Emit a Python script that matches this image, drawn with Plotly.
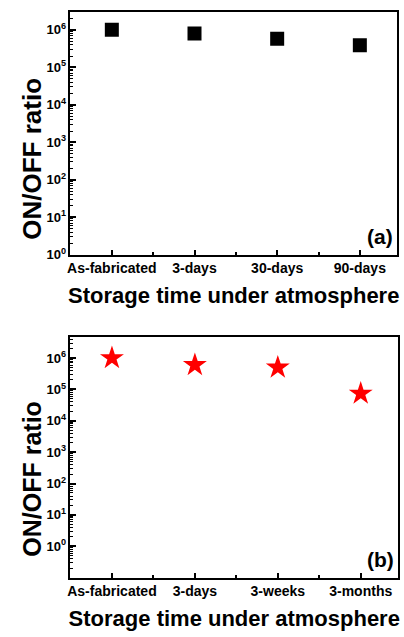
import plotly.graph_objects as go

cats_a = ["As-fabricated", "3-days", "30-days", "90-days"]
vals_a = [1.0e6, 8.0e5, 5.8e5, 3.9e5]
cats_b = ["As-fabricated", "3-days", "3-weeks", "3-months"]
vals_b = [1.0e6, 6.0e5, 5.0e5, 7.4e4]
ytick_exp = [0, 1, 2, 3, 4, 5, 6]
ytick_text = ["10<sup>%d</sup>" % e for e in ytick_exp]

W, H = 404, 637
FONT = "Liberation Sans, Arial, sans-serif"

minor_vals = [k * 10.0 ** e for e in range(-1, 7) for k in range(2, 10)]

fig = go.Figure()
fig.add_trace(go.Scatter(x=list(range(len(cats_a))), y=vals_a, mode="markers",
                         marker=dict(symbol="square", size=14, color="black"),
                         xaxis="x", yaxis="y", showlegend=False))
fig.add_trace(go.Scatter(x=list(range(len(cats_b))), y=vals_b, mode="markers",
                         marker=dict(symbol="star", size=18, color="#ff0000",
                                     line=dict(width=0)),
                         xaxis="x2", yaxis="y2", showlegend=False))

def px_x(a, b):
    return [a / W, b / W]

def px_y(top, bottom):
    return [(H - bottom) / H, (H - top) / H]

common_x = dict(showline=True, linecolor="black", linewidth=1.5, mirror=True,
                ticks="inside", ticklen=5, tickwidth=1.5, tickcolor="black",
                showgrid=False, zeroline=False, range=[-0.5, 3.45],
                minor=dict(ticks="inside", ticklen=3, tickwidth=1.5, tickcolor="black",
                           tickvals=[0.5, 1.5, 2.5], showgrid=False),
                tickfont=dict(family=FONT, size=14, color="black", weight="bold"),
                title=dict(text="Storage time under atmosphere",
                           font=dict(family=FONT, size=22, color="black", weight="bold"),
                           standoff=12))
common_y = dict(type="log", showline=True, linecolor="black", linewidth=1.5, mirror=True,
                ticks="inside", ticklen=6, tickwidth=1.5, tickcolor="black",
                showgrid=False, zeroline=False,
                tickvals=[10 ** e for e in ytick_exp], ticktext=ytick_text,
                minor=dict(ticks="inside", ticklen=3, tickwidth=1, tickcolor="black",
                           tickvals=minor_vals, showgrid=False),
                tickfont=dict(family=FONT, size=13, color="black", weight="bold"))

fig.update_layout(
    width=W, height=H, margin=dict(l=0, r=0, t=0, b=0),
    paper_bgcolor="white", plot_bgcolor="white",
    xaxis=dict(domain=px_x(68, 397), anchor="y",
               tickvals=list(range(len(cats_a))), ticktext=cats_a, **common_x),
    yaxis=dict(domain=px_y(12, 258), anchor="x", range=[0, 6.48], **common_y),
    xaxis2=dict(domain=px_x(68, 398), anchor="y2",
                tickvals=list(range(len(cats_b))), ticktext=cats_b, **common_x),
    yaxis2=dict(domain=px_y(341, 585), anchor="x2", range=[-1, 6.68], **common_y),
    annotations=[
        dict(text="ON/OFF ratio", xref="paper", yref="paper", x=29 / W, y=(H - 161) / H,
             xanchor="center", yanchor="middle", textangle=-90, showarrow=False,
             font=dict(family=FONT, size=26, color="black", weight="bold")),
        dict(text="ON/OFF ratio", xref="paper", yref="paper", x=29 / W, y=(H - 485) / H,
             xanchor="center", yanchor="middle", textangle=-90, showarrow=False,
             font=dict(family=FONT, size=25, color="black", weight="bold")),
        dict(text="(a)", xref="x domain", yref="y domain", x=0.995, y=0.02,
             xanchor="right", yanchor="bottom", showarrow=False,
             font=dict(family=FONT, size=21, color="black", weight="bold")),
        dict(text="(b)", xref="x2 domain", yref="y2 domain", x=0.995, y=0.02,
             xanchor="right", yanchor="bottom", showarrow=False,
             font=dict(family=FONT, size=21, color="black", weight="bold")),
    ],
)

fig.write_html("out.html")
